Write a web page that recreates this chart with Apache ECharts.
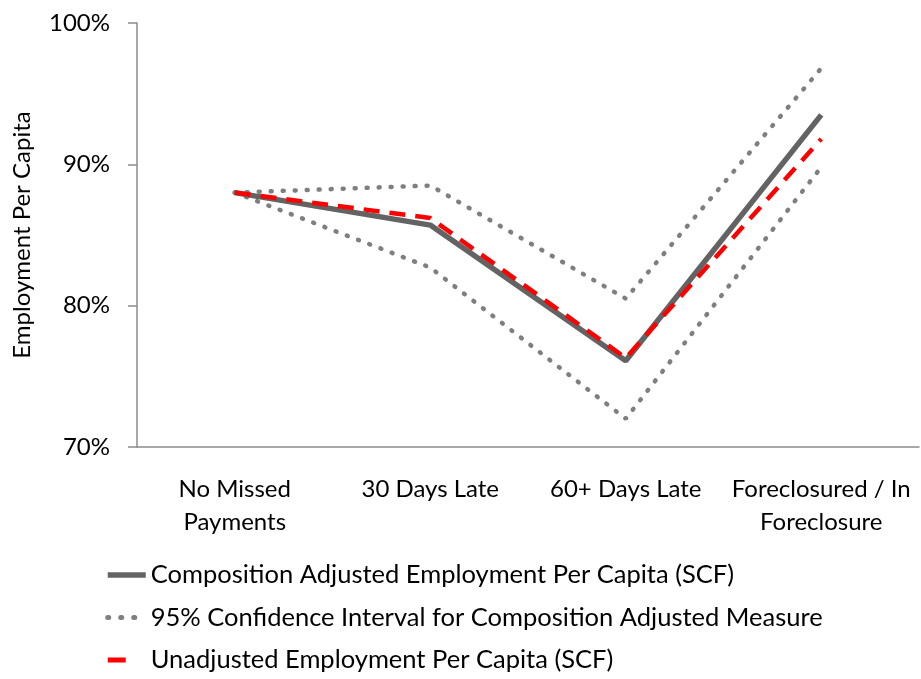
<!DOCTYPE html>
<html>
<head>
<meta charset="utf-8">
<script src="https://cdn.jsdelivr.net/npm/echarts@6/dist/echarts.min.js"></script>
<style>
  html, body { margin: 0; padding: 0; background: #fff; }
  #chart { width: 921px; height: 679px; }
</style>
</head>
<body>
<div id="chart"></div>
<script>
const categories = ['No Missed\nPayments', '30 Days Late', '60+ Days Late', 'Foreclosured / In\nForeclosure'];
const composition = [88.0, 85.7, 76.1, 93.5];
const upperCI = [88.0, 88.5, 80.5, 96.8];
const lowerCI = [88.0, 82.7, 72.0, 89.8];
const unadjusted = [88.0, 86.2, 76.3, 91.8];
const yTicks = [70, 80, 90, 100];

const FONT = 'Lato, "Open Sans", sans-serif';
const AXIS_GRAY = '#8c8c8c';
const NAME_COMP = 'Composition Adjusted Employment Per Capita (SCF)';
const NAME_CI = '95% Confidence Interval for Composition Adjusted Measure';
const NAME_UNADJ = 'Unadjusted Employment Per Capita (SCF)';

const chart = echarts.init(document.getElementById('chart'));

const ciStyle = { color: '#7f7f7f', width: 4.5, type: [1, 11], cap: 'round' };

chart.setOption({
  animation: false,
  textStyle: { fontFamily: FONT },
  grid: { left: 137, right: 2, top: 23, bottom: 232, containLabel: false },
  legend: {
    orient: 'vertical',
    left: 105,
    top: 562,
    padding: 0,
    itemWidth: 38,
    itemHeight: 14,
    itemGap: 16.5,
    itemStyle: { opacity: 0 },
    data: [
      { name: NAME_COMP, lineStyle: { color: '#636363', width: 5.5, type: 'solid' } },
      { name: NAME_CI, lineStyle: { color: '#7f7f7f', width: 5, type: [1, 12], cap: 'round' } },
      { name: NAME_UNADJ, lineStyle: { color: '#ff0000', width: 5, type: [18, 40] } },
    ],
    textStyle: { fontFamily: FONT, fontSize: 25.5, color: '#000', lineHeight: 26 },
  },
  xAxis: {
    type: 'category',
    data: categories,
    boundaryGap: true,
    axisLine: { lineStyle: { color: AXIS_GRAY, width: 1.5 } },
    axisTick: { length: 8, lineStyle: { color: AXIS_GRAY, width: 1.5 } },
    axisLabel: {
      interval: 0,
      margin: 26,
      color: '#000',
      fontFamily: FONT,
      fontSize: 24,
      lineHeight: 33,
    },
    splitLine: { show: false },
  },
  yAxis: {
    type: 'value',
    min: yTicks[0],
    max: yTicks[yTicks.length - 1],
    interval: 10,
    name: 'Employment Per Capita',
    nameLocation: 'middle',
    nameGap: 103,
    nameTextStyle: { color: '#000', fontFamily: FONT, fontSize: 24 },
    axisLine: { show: true, lineStyle: { color: AXIS_GRAY, width: 1.5 } },
    axisTick: { show: true, length: 9, lineStyle: { color: AXIS_GRAY, width: 1.5 } },
    axisLabel: {
      margin: 27,
      color: '#000',
      fontFamily: FONT,
      fontSize: 24,
      formatter: (v) => v + '%',
    },
    splitLine: { show: false },
  },
  series: [
    {
      name: NAME_CI,
      type: 'line',
      data: upperCI,
      symbol: 'none',
      lineStyle: ciStyle,
      itemStyle: { color: '#7f7f7f' },
    },
    {
      name: NAME_CI,
      type: 'line',
      data: lowerCI,
      symbol: 'none',
      lineStyle: ciStyle,
      itemStyle: { color: '#7f7f7f' },
    },
    {
      name: NAME_COMP,
      type: 'line',
      data: composition,
      symbol: 'none',
      lineStyle: { color: '#636363', width: 5.5 },
      itemStyle: { color: '#636363' },
    },
    {
      name: NAME_UNADJ,
      type: 'line',
      data: unadjusted,
      symbol: 'none',
      lineStyle: { color: '#ff0000', width: 4.5, type: [16, 10] },
      itemStyle: { color: '#ff0000' },
    },
  ],
});
</script>
</body>
</html>
